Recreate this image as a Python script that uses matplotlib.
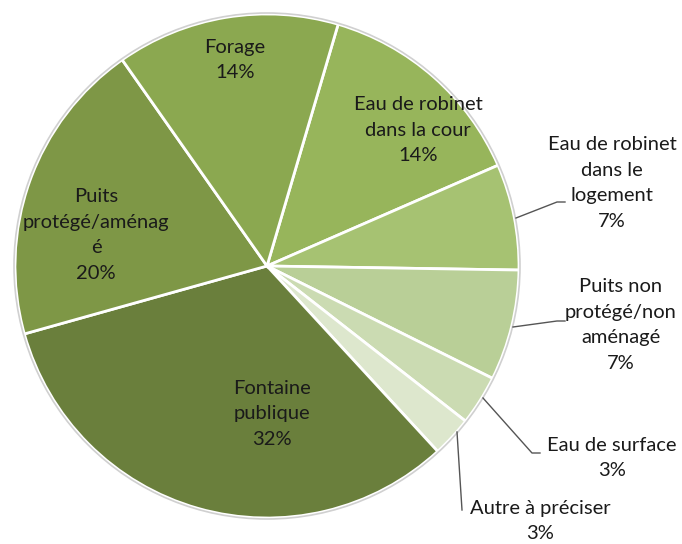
import matplotlib.pyplot as plt

plt.rcParams['font.family'] = ['Lato', 'DejaVu Sans']

# Slices, clockwise from the "Forage" / "cour" boundary
labels = ['Eau de robinet\ndans la cour', 'Eau de robinet\ndans le\nlogement',
          'Puits non\nprotégé/non\naménagé', 'Eau de surface', 'Autre à préciser',
          'Fontaine\npublique', 'Puits\nprotégé/aménag\né', 'Forage']
values = [13.9, 6.8, 7.1, 3.2, 2.6, 32.5, 19.6, 14.3]
colors = ['#97b55b', '#a6c272', '#b9cf97', '#cbdbb2', '#dde7cd',
          '#6a7f3c', '#7e9746', '#8ba850']

W, H = 682, 544
fig = plt.figure(figsize=(W / 100, H / 100), dpi=100)
ax = fig.add_axes([0, 0, 1, 1])

cx, cy, r = 267, H - 266, 252
wedges, _ = ax.pie(values, colors=colors, startangle=73.6, counterclock=False,
                   center=(cx, cy), radius=r, frame=True,
                   wedgeprops=dict(edgecolor='white', linewidth=2))
ax.set_xlim(0, W)
ax.set_ylim(0, H)
ax.axis('off')
circle = plt.Circle((cx, cy), r + 1, fill=False, edgecolor='#d0d0d0', linewidth=1.2)
ax.add_patch(circle)

tcol = '#1a1a1a'
fs = 14.5
ls = 1.62

def pct(v):
    return f'{round(v):d}%'

# inside labels (pixel positions from the top)
inside = {0: (418, 130), 5: (272, 414), 6: (96, 235), 7: (235, 60)}
for i, (px, py) in inside.items():
    ax.text(px, H - py, f'{labels[i]}\n{pct(values[i])}', ha='center', va='center',
            fontsize=fs, color=tcol, linespacing=ls)

# outside labels with leader lines
outside = {
    1: ((612, 183), [(516, 218), (557, 202), (565, 202)]),
    2: ((621, 325), [(513, 327), (557, 321), (565, 321)]),
    3: ((612, 458), [(483, 398), (532, 453), (540, 453)]),
    4: ((540, 521), [(457, 432), (462, 510)]),
}
for i, ((px, py), pts) in outside.items():
    ax.text(px, H - py, f'{labels[i]}\n{pct(values[i])}', ha='center', va='center',
            fontsize=fs, color=tcol, linespacing=ls)
    ax.plot([p[0] for p in pts], [H - p[1] for p in pts], color='#555555', linewidth=1)

fig.savefig('out.png', dpi=100)
